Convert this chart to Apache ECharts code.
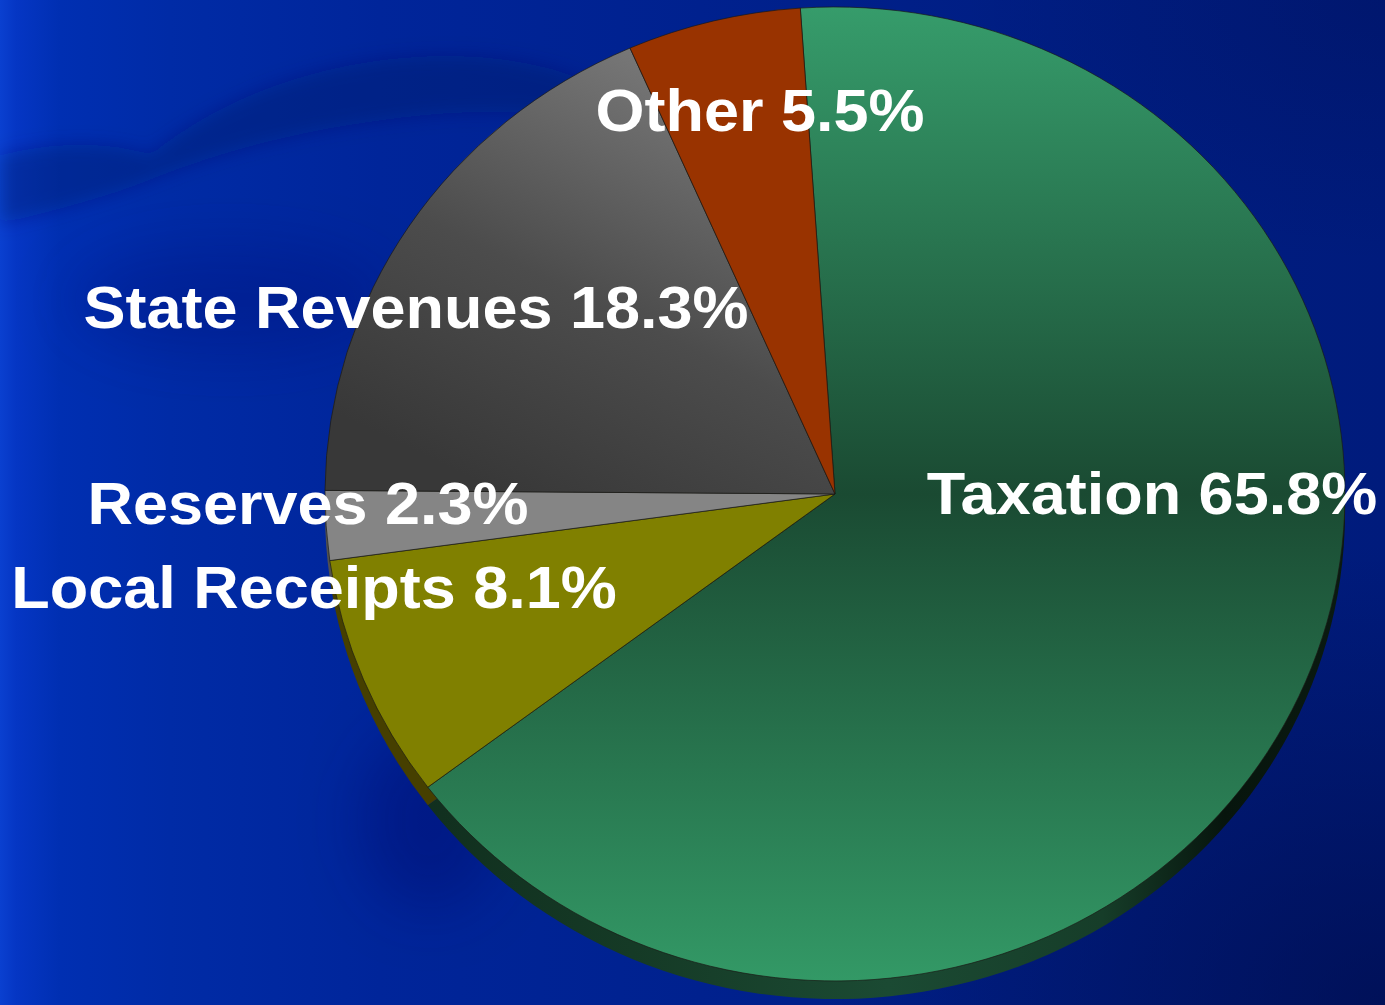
<!DOCTYPE html>
<html>
<head>
<meta charset="utf-8">
<title>Revenue Sources</title>
<script src="https://cdn.jsdelivr.net/npm/echarts@6/dist/echarts.min.js"></script>
<style>
  html, body { margin: 0; padding: 0; }
  body {
    width: 1385px; height: 1005px; overflow: hidden; position: relative;
    background:
      radial-gradient(ellipse 560px 460px at 1385px 1005px, rgba(0, 8, 60, 0.55), rgba(0, 8, 60, 0) 100%),
      radial-gradient(ellipse 420px 260px at 1385px 0px, rgba(0, 10, 70, 0.25), rgba(0, 10, 70, 0) 100%),
      linear-gradient(90deg, #0a40d0 0px, #0536c4 16px, #002fb2 60px, #002ba6 170px, #00259a 380px, #00218e 700px, #001e84 1000px, #001b7c 1385px);
  }
  #deco { position: absolute; left: 0; top: 0; }
  #chart {
    position: absolute; left: 0; top: 0;
    width: 1385px; height: 1052px;
    transform: scaleY(0.9549); transform-origin: 0 0;
  }
</style>
</head>
<body>
<!-- soft wave texture in the backdrop -->
<svg id="deco" width="1385" height="1005">
  <defs>
    <filter id="soft" x="-20%" y="-40%" width="140%" height="180%"><feGaussianBlur stdDeviation="9"/></filter>
    <filter id="softer" x="-50%" y="-50%" width="200%" height="200%"><feGaussianBlur stdDeviation="30"/></filter>
  </defs>
  <path d="M0,155 C50,142 110,140 150,155 C220,98 320,60 430,56 C520,54 580,72 620,100 L620,128 C560,110 480,108 400,118 C300,130 220,152 150,180 C100,200 40,214 0,224 Z"
        fill="rgba(0,20,100,0.35)" filter="url(#soft)"/>
  <ellipse cx="230" cy="300" rx="160" ry="55" fill="rgba(0,20,100,0.22)" filter="url(#softer)"/>
  <ellipse cx="430" cy="820" rx="70" ry="90" fill="rgba(0,15,90,0.3)" filter="url(#softer)"/>
</svg>
<div id="chart"></div>
<script>
// Revenue shares (percent), listed clockwise from the top
const categories = ['Taxation', 'Local Receipts', 'Reserves', 'State Revenues', 'Other'];
const shares = [65.8, 8.1, 2.3, 18.3, 5.5];

// Label anchor points (chart pixels, before the vertical squash)
const labelAnchors = [
  [1152, 516],
  [314, 615],
  [308, 527],
  [416, 321],
  [760, 115]
];

const PIE_CENTER = [835, 517.3];
const PIE_RADIUS = 510;
const RIM_DEPTH = 19;
const START_ANGLE = 93.9;

const faceColors = [
  new echarts.graphic.LinearGradient(0, 0, 0, 1, [
    { offset: 0, color: '#369c6b' },
    { offset: 0.5, color: '#1a4a32' },
    { offset: 1, color: '#339966' }
  ]),
  '#808000',
  '#858585',
  new echarts.graphic.LinearGradient(0.85, 0.1, 0.35, 1, [
    { offset: 0, color: '#7a7a7a' },
    { offset: 0.55, color: '#4c4c4c' },
    { offset: 1, color: '#383838' }
  ]),
  '#993300'
];

const rimColors = [
  new echarts.graphic.LinearGradient(327, 0, 1347, 0, [
    { offset: 0, color: '#0f2a1b' },
    { offset: 0.3, color: '#153a26' },
    { offset: 0.55, color: '#1b4a33' },
    { offset: 0.76, color: '#163d29' },
    { offset: 0.88, color: '#07150d' },
    { offset: 1, color: '#0a1a11' }
  ], true),
  '#463f00',
  '#505050',
  '#2a2a2a',
  '#4d1a00'
];

const faceData = categories.map((name, i) => ({
  name: name,
  value: shares[i],
  itemStyle: { color: faceColors[i] }
}));

const rimData = categories.map((name, i) => ({
  name: name,
  value: shares[i],
  itemStyle: { color: rimColors[i] }
}));

const chart = echarts.init(document.getElementById('chart'), null, { renderer: 'svg' });

chart.setOption({
  animation: false,
  backgroundColor: 'transparent',
  tooltip: { show: false },
  series: [
    {
      // extruded side of the pie, peeking out below the top face
      type: 'pie',
      silent: true,
      z: 1,
      center: [PIE_CENTER[0], PIE_CENTER[1] + RIM_DEPTH],
      radius: PIE_RADIUS,
      startAngle: START_ANGLE,
      clockwise: true,
      label: { show: false },
      labelLine: { show: false },
      itemStyle: { borderWidth: 0 },
      data: rimData
    },
    {
      type: 'pie',
      silent: true,
      z: 2,
      center: PIE_CENTER,
      radius: PIE_RADIUS,
      startAngle: START_ANGLE,
      clockwise: true,
      itemStyle: { borderColor: 'rgba(25,25,20,0.7)', borderWidth: 1 },
      labelLine: { show: false },
      label: {
        show: true,
        position: 'inside',
        color: '#ffffff',
        fontFamily: '"Liberation Sans", Arial, Helvetica, sans-serif',
        fontWeight: 'bold',
        fontSize: 63,
        formatter: p => p.name + ' ' + p.value.toFixed(1) + '%'
      },
      labelLayout: params => {
        const a = labelAnchors[params.dataIndex];
        return { x: a[0], y: a[1], align: 'center', verticalAlign: 'middle' };
      },
      data: faceData
    }
  ]
});
</script>
</body>
</html>
